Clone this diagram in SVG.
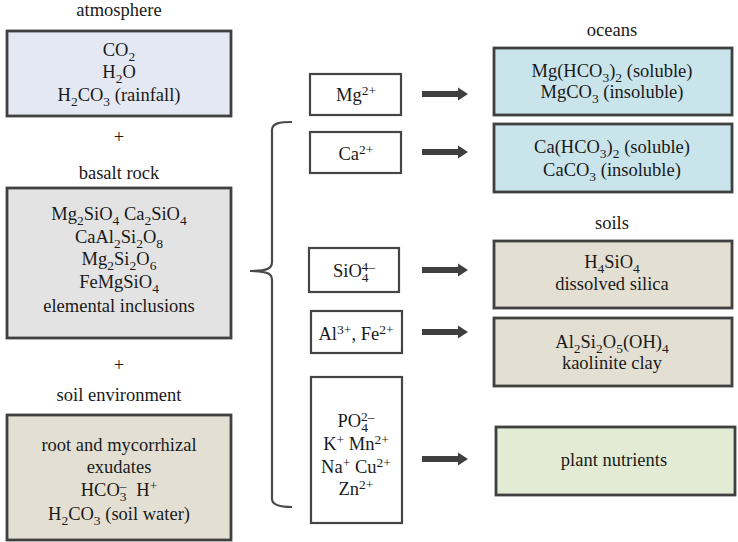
<svg xmlns="http://www.w3.org/2000/svg" width="738" height="542" viewBox="0 0 738 542">
<style>
text{font-family:"Liberation Serif","Times New Roman",serif;font-size:18.5px;fill:#1a1a1a;text-anchor:middle}
.sb{font-size:13.5px;baseline-shift:-5px}
.sp{font-size:13.5px;baseline-shift:6px}
.big{stroke:#404040;stroke-width:2.8}
.mid{fill:#fff;stroke:#454545;stroke-width:2.2}
.atm{fill:#e3e8f3}
.bas{fill:#e3e3e3}
.soil{fill:#e3e0d3}
.ocean{fill:#c9e4eb}
.plant{fill:#e3ebd4}
.arrow{fill:#3f3f3f}
</style>
<defs>
<path id="arr" d="M0,-3 L36,-3 L36,-6.5 L46,0 L36,6.5 L36,3 L0,3 Z"/>
</defs>
<rect width="738" height="542" fill="#fff"/>

<g id="atmosphere">
<text x="119" y="16">atmosphere</text>
<rect class="big atm" x="7" y="31" width="224" height="85"/>
<text x="119" y="56">CO<tspan class="sb">2</tspan></text>
<text x="119" y="78">H<tspan class="sb">2</tspan>O</text>
<text x="119" y="101">H<tspan class="sb">2</tspan>CO<tspan class="sb">3</tspan> (rainfall)</text>
</g>
<text x="119" y="143">+</text>

<g id="basalt">
<text x="119" y="179">basalt rock</text>
<rect class="big bas" x="7" y="188" width="224" height="150"/>
<text x="119" y="220">Mg<tspan class="sb">2</tspan>SiO<tspan class="sb">4</tspan> Ca<tspan class="sb">2</tspan>SiO<tspan class="sb">4</tspan></text>
<text x="119" y="243">CaAl<tspan class="sb">2</tspan>Si<tspan class="sb">2</tspan>O<tspan class="sb">8</tspan></text>
<text x="119" y="265">Mg<tspan class="sb">2</tspan>Si<tspan class="sb">2</tspan>O<tspan class="sb">6</tspan></text>
<text x="119" y="288">FeMgSiO<tspan class="sb">4</tspan></text>
<text x="119" y="312">elemental inclusions</text>
</g>
<text x="119" y="371">+</text>

<g id="soilenv">
<text x="119" y="401">soil environment</text>
<rect class="big soil" x="7" y="415" width="224" height="125"/>
<text x="119" y="451">root and mycorrhizal</text>
<text x="119" y="473">exudates</text>
<text x="119" y="496">HCO<tspan class="sb">3</tspan><tspan class="sp" dx="-7">–</tspan><tspan dx="10">H</tspan><tspan class="sp">+</tspan></text>
<text x="119" y="520">H<tspan class="sb">2</tspan>CO<tspan class="sb">3</tspan> (soil water)</text>
</g>

<g id="mg">
<rect class="mid" x="310" y="74" width="91" height="41"/>
<text x="356" y="101">Mg<tspan class="sp">2+</tspan></text>
</g>
<g id="ca">
<rect class="mid" x="310" y="132" width="91" height="41"/>
<text x="356" y="160">Ca<tspan class="sp">2+</tspan></text>
</g>
<g id="sio4">
<rect class="mid" x="309" y="248" width="90" height="44"/>
<text x="354" y="277">SiO<tspan class="sb">4</tspan><tspan class="sp" dx="-7">4–</tspan></text>
</g>
<g id="alfe">
<rect class="mid" x="311" y="311" width="91" height="42"/>
<text x="356" y="340">Al<tspan class="sp">3+</tspan>, Fe<tspan class="sp">2+</tspan></text>
</g>
<g id="nutrientions">
<rect class="mid" x="311" y="377" width="91" height="146"/>
<text x="356" y="427">PO<tspan class="sb">4</tspan><tspan class="sp" dx="-7">2–</tspan></text>
<text x="356" y="450">K<tspan class="sp">+</tspan> Mn<tspan class="sp">2+</tspan></text>
<text x="356" y="473">Na<tspan class="sp">+</tspan> Cu<tspan class="sp">2+</tspan></text>
<text x="356" y="495">Zn<tspan class="sp">2+</tspan></text>
</g>

<g id="oceans">
<text x="612" y="36">oceans</text>
<rect class="big ocean" x="494" y="48" width="238" height="67"/>
<text x="612" y="77">Mg(HCO<tspan class="sb">3</tspan>)<tspan class="sb">2</tspan> (soluble)</text>
<text x="612" y="98">MgCO<tspan class="sb">3</tspan> (insoluble)</text>
</g>
<g id="oceans2">
<rect class="big ocean" x="494" y="124" width="238" height="68"/>
<text x="612" y="153">Ca(HCO<tspan class="sb">3</tspan>)<tspan class="sb">2</tspan> (soluble)</text>
<text x="612" y="176">CaCO<tspan class="sb">3</tspan> (insoluble)</text>
</g>
<g id="soils">
<text x="612" y="229">soils</text>
<rect class="big soil" x="494" y="241" width="238" height="67"/>
<text x="612" y="268">H<tspan class="sb">4</tspan>SiO<tspan class="sb">4</tspan></text>
<text x="612" y="290">dissolved silica</text>
</g>
<g id="clay">
<rect class="big soil" x="494" y="318" width="238" height="68"/>
<text x="612" y="348">Al<tspan class="sb">2</tspan>Si<tspan class="sb">2</tspan>O<tspan class="sb">5</tspan>(OH)<tspan class="sb">4</tspan></text>
<text x="612" y="369">kaolinite clay</text>
</g>
<g id="plant">
<rect class="big plant" x="496" y="427" width="239" height="68"/>
<text x="614" y="466">plant nutrients</text>
</g>

<g id="connectors">
<path d="M292,122 C280,122 272,123 272,130 L272,262 C272,268 268,271 250,271 C268,271 272,274 272,280 L272,499 C272,505 280,507 292,507" fill="none" stroke="#4a4a4a" stroke-width="2.2"/>
<use href="#arr" class="arrow" x="422" y="94"/>
<use href="#arr" class="arrow" x="422" y="152"/>
<use href="#arr" class="arrow" x="422" y="270"/>
<use href="#arr" class="arrow" x="422" y="332"/>
<use href="#arr" class="arrow" x="422" y="459"/>
</g>
</svg>
